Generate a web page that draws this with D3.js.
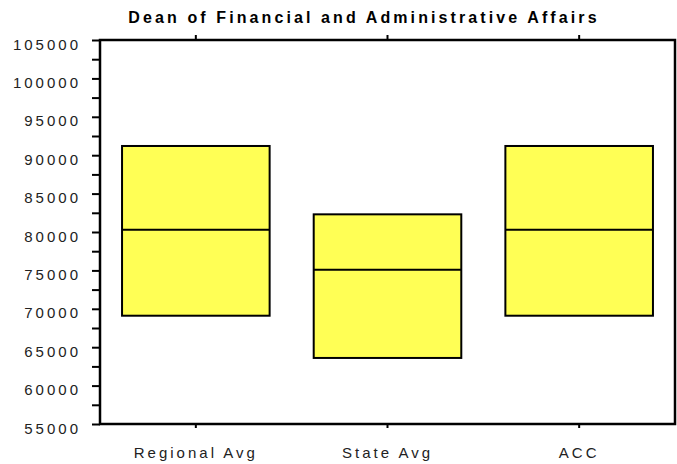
<!DOCTYPE html>
<html>
<head>
<meta charset="utf-8">
<script src="https://cdn.jsdelivr.net/npm/d3@7"></script>
<style>
  body { margin: 0; background: #fff; }
  svg { display: block; }
  text { font-family: "Liberation Sans", Arial, sans-serif; fill: #222; }
</style>
</head>
<body>
<svg id="chart" width="677" height="464"></svg>
<script>
var categories = ["Regional Avg", "State Avg", "ACC"];
var lowValues = [69100, 63600, 69100];
var medianValues = [80300, 75100, 80300];
var highValues = [91200, 82300, 91200];
var yTicks = d3.range(55000, 105001, 2500);

var svg = d3.select("#chart");
var plotLeft = 100, plotRight = 675, plotTop = 40, plotBottom = 424;

var x = d3.scaleBand().domain(categories).range([plotLeft, plotRight]).padding(0);
var y = d3.scaleLinear().domain([55000, 105000]).range([plotBottom, plotTop]);
var boxW = x.bandwidth() * 0.77;

// title
svg.append("text")
  .attr("x", 364).attr("y", 23)
  .attr("text-anchor", "middle")
  .style("font-size", "16px").style("font-weight", "bold")
  .style("letter-spacing", "3.1px")
  .style("fill", "#000")
  .text("Dean of Financial and Administrative Affairs");

// boxes
var rows = categories.map(function(c, i) {
  return { cat: c, low: lowValues[i], mid: medianValues[i], high: highValues[i] };
});
var g = svg.append("g").selectAll("g").data(rows).enter().append("g");
g.append("rect")
  .attr("x", function(d) { return x(d.cat) + (x.bandwidth() - boxW) / 2; })
  .attr("y", function(d) { return y(d.high); })
  .attr("width", boxW)
  .attr("height", function(d) { return y(d.low) - y(d.high); })
  .attr("fill", "#ffff55").attr("stroke", "#000").attr("stroke-width", 2);
g.append("line")
  .attr("x1", function(d) { return x(d.cat) + (x.bandwidth() - boxW) / 2; })
  .attr("x2", function(d) { return x(d.cat) + (x.bandwidth() + boxW) / 2; })
  .attr("y1", function(d) { return y(d.mid); })
  .attr("y2", function(d) { return y(d.mid); })
  .attr("stroke", "#000").attr("stroke-width", 2);

// y axis
var yAxis = svg.append("g").attr("transform", "translate(" + plotLeft + ",0)")
  .call(d3.axisLeft(y).tickValues(yTicks).tickSize(8).tickFormat(function(d) {
    return d % 5000 === 0 ? d3.format("d")(d) : "";
  }));
yAxis.select(".domain").remove();
yAxis.selectAll(".tick line").attr("stroke", "#000").attr("stroke-width", 2);
yAxis.selectAll(".tick text")
  .attr("x", -19).attr("dy", "9px")
  .style("font-size", "15px").style("letter-spacing", "3px")
  .style("font-family", "Liberation Sans, Arial, sans-serif").style("fill", "#222");

// bottom axis
var xAxis = svg.append("g").attr("transform", "translate(0," + plotBottom + ")")
  .call(d3.axisBottom(x).tickSize(4).tickPadding(19));
xAxis.select(".domain").remove();
xAxis.selectAll(".tick line").attr("stroke", "#000").attr("stroke-width", 2);
xAxis.selectAll(".tick text")
  .style("font-size", "15px").style("letter-spacing", "3px")
  .style("font-family", "Liberation Sans, Arial, sans-serif").style("fill", "#222");

// top ticks
var xTop = svg.append("g").attr("transform", "translate(0," + plotTop + ")")
  .call(d3.axisTop(x).tickSize(5).tickFormat(""));
xTop.select(".domain").remove();
xTop.selectAll(".tick line").attr("stroke", "#000").attr("stroke-width", 2);

// frame
svg.append("rect")
  .attr("x", plotLeft).attr("y", plotTop)
  .attr("width", plotRight - plotLeft).attr("height", plotBottom - plotTop)
  .attr("fill", "none").attr("stroke", "#000").attr("stroke-width", 2.5);
</script>
</body>
</html>
